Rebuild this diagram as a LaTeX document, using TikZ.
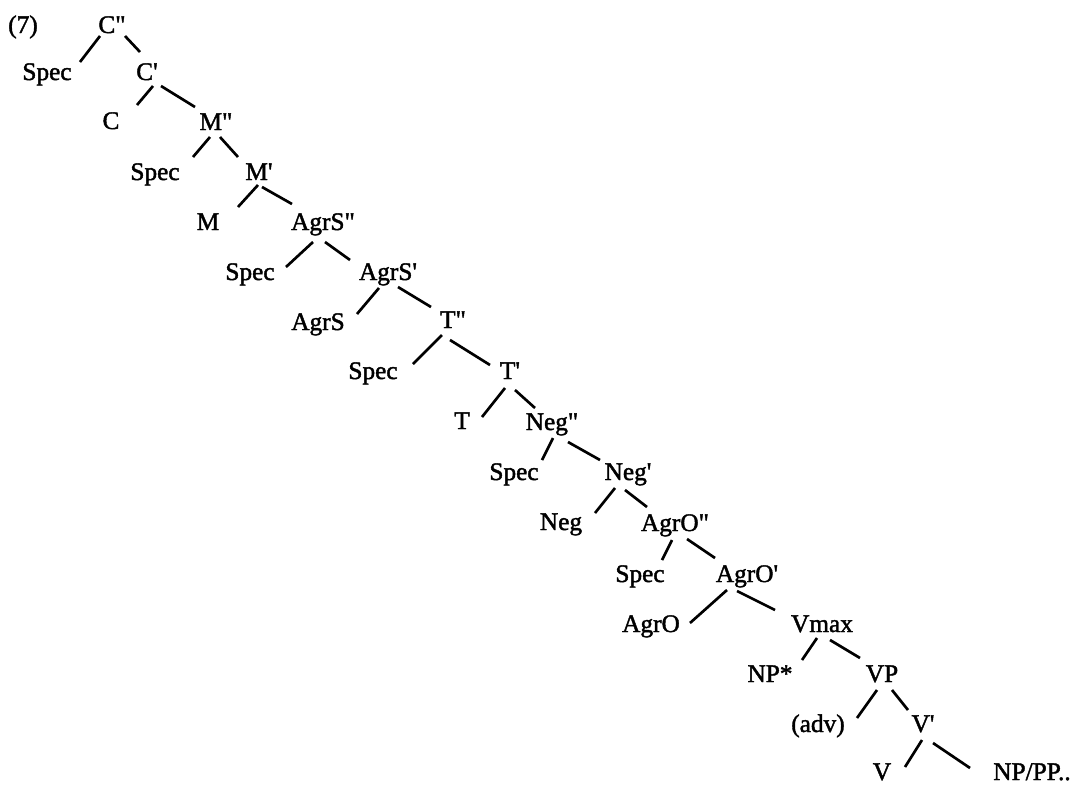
\documentclass[tikz,border=0pt]{standalone}
\usepackage{fontspec}
\newfontfamily\catfont{Liberation Serif}[FakeBold=1.6]
\usepackage{tikz}
\usetikzlibrary{calc}

\begin{document}
\begin{tikzpicture}[x=0.025cm, y=-0.025cm,
    cat/.style = {anchor=base, inner sep=1.5pt, font=\catfont\fontsize{18}{20}\selectfont},
    edge/.style = {line width=1.9pt}]
    \useasboundingbox (0,0) rectangle (1073,784);

    \node[cat] (ex) at (23,33) {(7)};
    \node[cat] (Cpp) at (112,33) {C"};
    \node[cat] (SpecC) at (47,80) {Spec};
    \node[cat] (Cp) at (147,80) {C'};
    \node[cat] (C) at (111,129) {C};
    \node[cat] (Mpp) at (216,130) {M"};
    \node[cat] (SpecM) at (155,180) {Spec};
    \node[cat] (Mp) at (259,180) {M'};
    \node[cat] (M) at (208,230) {M};
    \node[cat] (AgrSpp) at (323,230) {AgrS"};
    \node[cat] (SpecAgrS) at (250,280) {Spec};
    \node[cat] (AgrSp) at (388,280) {AgrS'};
    \node[cat] (AgrS) at (318,330) {AgrS};
    \node[cat] (Tpp) at (453,328) {T"};
    \node[cat] (SpecT) at (373,379) {Spec};
    \node[cat] (Tp) at (510,379) {T'};
    \node[cat] (T) at (462,429) {T};
    \node[cat] (Negpp) at (552,430) {Neg"};
    \node[cat] (SpecNeg) at (514,480) {Spec};
    \node[cat] (Negp) at (628,480) {Neg'};
    \node[cat] (Neg) at (561,530) {Neg};
    \node[cat] (AgrOpp) at (675,531) {AgrO"};
    \node[cat] (SpecAgrO) at (640,582) {Spec};
    \node[cat] (AgrOp) at (747,582) {AgrO'};
    \node[cat] (AgrO) at (651,632) {AgrO};
    \node[cat] (Vmax) at (822,632) {Vmax};
    \node[cat] (NPstar) at (770,682) {NP*};
    \node[cat] (VP) at (882,682) {VP};
    \node[cat] (adv) at (818,732) {(adv)};
    \node[cat] (Vp) at (923,732) {V'};
    \node[cat] (V) at (882,780) {V};
    \node[cat] (NPPP) at (1032,780) {NP/PP..};

    \draw[edge] ($(Cpp.base)+(-12,3)$) -- ($(SpecC.base)+(33,-18)$);
    \draw[edge] ($(Cpp.base)+(13,3)$) -- ($(Cp.base)+(-7,-28)$);
    \draw[edge] ($(Cp.base)+(6,6)$) -- ($(C.base)+(26,-24)$);
    \draw[edge] ($(Cp.base)+(14,6)$) -- ($(Mpp.base)+(-21,-23)$);
    \draw[edge] ($(Mpp.base)+(-6,7)$) -- ($(SpecM.base)+(38,-23)$);
    \draw[edge] ($(Mpp.base)+(4,7)$) -- ($(Mp.base)+(-21,-23)$);
    \draw[edge] ($(Mp.base)+(-1,5)$) -- ($(M.base)+(30,-23)$);
    \draw[edge] ($(Mp.base)+(3,7)$) -- ($(AgrSpp.base)+(-31,-26)$);
    \draw[edge] ($(AgrSpp.base)+(-10,12)$) -- ($(SpecAgrS.base)+(36,-13)$);
    \draw[edge] ($(AgrSpp.base)+(2,12)$) -- ($(AgrSp.base)+(-38,-20)$);
    \draw[edge] ($(AgrSp.base)+(-9,8)$) -- ($(AgrS.base)+(39,-16)$);
    \draw[edge] ($(AgrSp.base)+(10,7)$) -- ($(Tpp.base)+(-22,-21)$);
    \draw[edge] ($(Tpp.base)+(-11,7)$) -- ($(SpecT.base)+(40,-15)$);
    \draw[edge] ($(Tpp.base)+(-3,12)$) -- ($(Tp.base)+(-20,-14)$);
    \draw[edge] ($(Tp.base)+(-5,9)$) -- ($(T.base)+(20,-12)$);
    \draw[edge] ($(Tp.base)+(5,11)$) -- ($(Negpp.base)+(-17,-22)$);
    \draw[edge] ($(Negpp.base)+(1,8)$) -- ($(SpecNeg.base)+(28,-20)$);
    \draw[edge] ($(Negpp.base)+(16,12)$) -- ($(Negp.base)+(-28,-20)$);
    \draw[edge] ($(Negp.base)+(-13,8)$) -- ($(Neg.base)+(34,-17)$);
    \draw[edge] ($(Negp.base)+(-3,10)$) -- ($(AgrOpp.base)+(-28,-24)$);
    \draw[edge] ($(AgrOpp.base)+(-3,9)$) -- ($(SpecAgrO.base)+(22,-22)$);
    \draw[edge] ($(AgrOpp.base)+(12,8)$) -- ($(AgrOp.base)+(-32,-24)$);
    \draw[edge] ($(AgrOp.base)+(-20,8)$) -- ($(AgrO.base)+(39,-9)$);
    \draw[edge] ($(AgrOp.base)+(-10,9)$) -- ($(Vmax.base)+(-47,-22)$);
    \draw[edge] ($(Vmax.base)+(-5,6)$) -- ($(NPstar.base)+(32,-22)$);
    \draw[edge] ($(Vmax.base)+(8,8)$) -- ($(VP.base)+(-22,-24)$);
    \draw[edge] ($(VP.base)+(-5,8)$) -- ($(adv.base)+(39,-14)$);
    \draw[edge] ($(VP.base)+(10,8)$) -- ($(Vp.base)+(-15,-22)$);
    \draw[edge] ($(Vp.base)+(-1,8)$) -- ($(V.base)+(23,-13)$);
    \draw[edge] ($(Vp.base)+(10,11)$) -- ($(NPPP.base)+(-62,-12)$);
\end{tikzpicture}
\end{document}
